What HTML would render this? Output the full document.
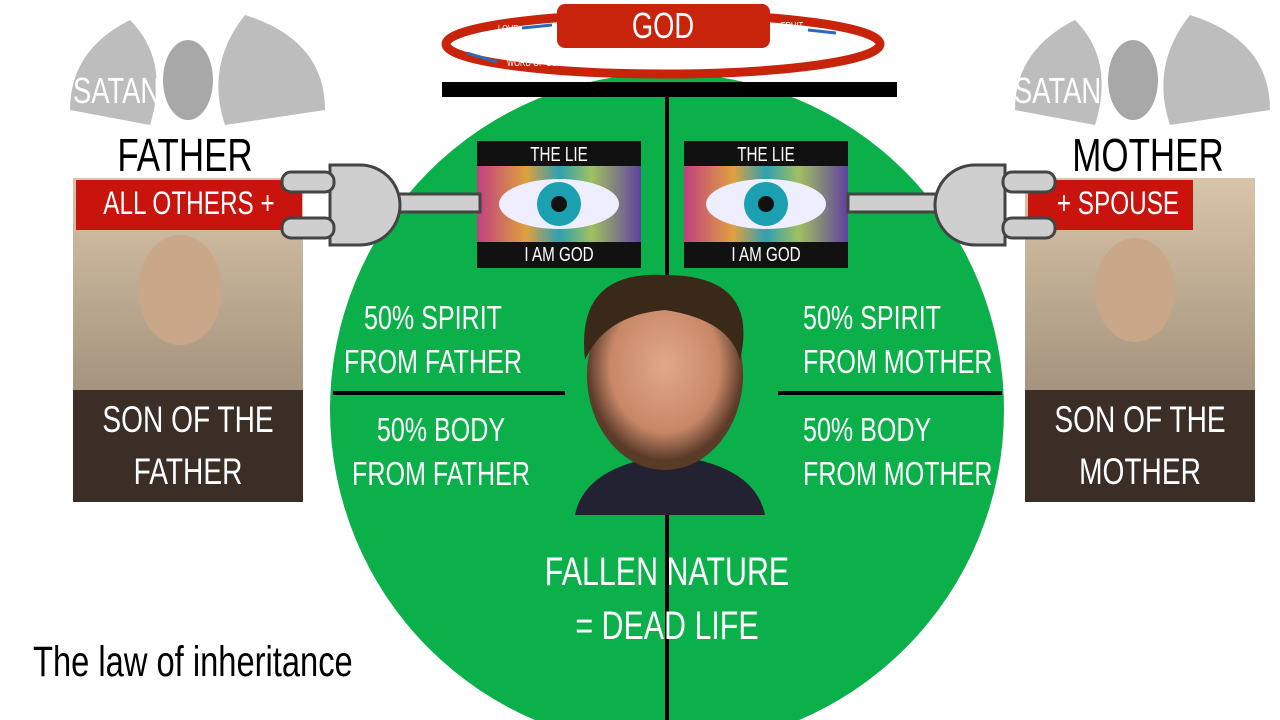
<!DOCTYPE html>
<html><head><meta charset="utf-8"><style>
body{margin:0;width:1280px;height:720px;background:#fff;position:relative;overflow:hidden;font-family:"Liberation Sans",sans-serif;}
.a{position:absolute}
.t{position:absolute;color:#fff;text-align:center;white-space:nowrap;font-family:"Liberation Sans",sans-serif;transform:scaleX(.76);transform-origin:center top}
.l{text-align:left;transform-origin:left top}
</style></head><body>
<svg class="a" style="left:0;top:0" width="1280" height="720">
<defs>
<linearGradient id="eye" x1="0" x2="1"><stop offset="0" stop-color="#c04080"/><stop offset=".3" stop-color="#e0a040"/><stop offset=".5" stop-color="#30a0b0"/><stop offset=".7" stop-color="#a0c060"/><stop offset="1" stop-color="#6040a0"/></linearGradient>
<radialGradient id="face" cx=".5" cy=".45" r=".5"><stop offset="0" stop-color="#e0a888"/><stop offset=".7" stop-color="#c88868"/><stop offset="1" stop-color="#5a3a28"/></radialGradient>
<linearGradient id="ph" x1="0" y1="0" x2="0" y2="1"><stop offset="0" stop-color="#d8c4a8"/><stop offset="1" stop-color="#8a7a68"/></linearGradient>
</defs>
<circle cx="667" cy="410" r="337" fill="#0bb04a"/>
<rect x="442" y="82" width="455" height="15" fill="#000"/>
<rect x="665" y="82" width="4" height="193" fill="#000"/>
<rect x="665" y="515" width="4" height="205" fill="#000"/>
<rect x="333" y="391" width="232" height="4" fill="#000"/>
<rect x="778" y="391" width="224" height="4" fill="#000"/>
<ellipse cx="663" cy="44" rx="217" ry="30" fill="none" stroke="#c8240c" stroke-width="9"/>
<rect x="557" y="4" width="213" height="44" rx="8" fill="#c8240c"/>
<g stroke="#2a6ab8" stroke-width="3"><line x1="522" y1="28" x2="552" y2="25"/><line x1="808" y1="30" x2="836" y2="33"/><line x1="467" y1="53" x2="497" y2="62"/></g>
<rect x="477" y="141" width="164" height="127" fill="#111"/>
<rect x="477" y="166" width="164" height="76" fill="url(#eye)"/>
<ellipse cx="559" cy="204" rx="60" ry="25" fill="#eef"/><circle cx="559" cy="204" r="22" fill="#1aa0b0"/><circle cx="559" cy="204" r="8" fill="#111"/>
<rect x="684" y="141" width="164" height="127" fill="#111"/>
<rect x="684" y="166" width="164" height="76" fill="url(#eye)"/>
<ellipse cx="766" cy="204" rx="60" ry="25" fill="#eef"/><circle cx="766" cy="204" r="22" fill="#1aa0b0"/><circle cx="766" cy="204" r="8" fill="#111"/>
<rect x="73" y="178" width="230" height="324" fill="url(#ph)"/>
<rect x="73" y="390" width="230" height="112" fill="#3a2e26"/>
<ellipse cx="180" cy="290" rx="42" ry="55" fill="#c8a888"/>
<rect x="1025" y="178" width="230" height="324" fill="url(#ph)"/>
<rect x="1025" y="390" width="230" height="112" fill="#3a2e26"/>
<ellipse cx="1135" cy="290" rx="40" ry="52" fill="#c8a888"/>
<rect x="76" y="180" width="226" height="50" fill="#c8140c"/>
<rect x="1028" y="180" width="165" height="50" fill="#c8140c"/>
<g fill="#cfcfcf" stroke="#444" stroke-width="3">
<rect x="380" y="194" width="100" height="18"/>
<path d="M330 165 h30 a40 40 0 0 1 0 80 h-30 z"/>
<rect x="282" y="172" width="52" height="20" rx="9"/><rect x="282" y="218" width="52" height="20" rx="9"/>
<rect x="848" y="194" width="95" height="18"/>
<path d="M1005 165 h-30 a40 40 0 0 0 0 80 h30 z"/>
<rect x="1003" y="172" width="52" height="20" rx="9"/><rect x="1003" y="218" width="52" height="20" rx="9"/>
</g>
<g fill="#bdbdbd"><path d="M70 110 q0 -60 60 -90 q40 40 20 105 z"/><path d="M325 110 q0 -70 -80 -95 q-40 50 -20 110 z"/><ellipse cx="188" cy="80" rx="25" ry="40" fill="#a8a8a8"/>
<path d="M1015 110 q0 -60 60 -90 q40 40 20 105 z"/><path d="M1270 110 q0 -70 -80 -95 q-40 50 -20 110 z"/><ellipse cx="1133" cy="80" rx="25" ry="40" fill="#a8a8a8"/></g>
<path d="M575 515 q10 -50 95 -60 q85 10 95 60 z" fill="#223"/>
<ellipse cx="665" cy="375" rx="78" ry="95" fill="url(#face)"/>
<path d="M585 360 q-10 -90 80 -85 q95 0 75 85 q-10 -40 -75 -50 q-60 5 -80 50z" fill="#3a2818"/>
</svg>
<div class="t" style="left:463px;top:6px;width:400px;font-size:36px;line-height:40px">GOD</div>
<div class="t" style="left:478px;top:24px;width:60px;font-size:10px">LOVE</div>
<div class="t" style="left:762px;top:21px;width:60px;font-size:10px">FRUIT</div>
<div class="t" style="left:490px;top:58px;width:90px;font-size:10px">WORD OF GOD</div>
<div class="t" style="left:359px;top:144px;width:400px;font-size:20px">THE LIE</div>
<div class="t" style="left:359px;top:244px;width:400px;font-size:20px">I AM GOD</div>
<div class="t" style="left:566px;top:144px;width:400px;font-size:20px">THE LIE</div>
<div class="t" style="left:566px;top:244px;width:400px;font-size:20px">I AM GOD</div>
<div class="t" style="left:-11px;top:185px;width:400px;font-size:32px">ALL OTHERS +</div>
<div class="t" style="left:918px;top:185px;width:400px;font-size:32px">+ SPOUSE</div>
<div class="t" style="left:-12px;top:394px;width:400px;font-size:37px;line-height:52px">SON OF THE<br>FATHER</div>
<div class="t" style="left:940px;top:394px;width:400px;font-size:37px;line-height:52px">SON OF THE<br>MOTHER</div>
<div class="t" style="left:233px;top:296px;width:400px;font-size:33px;line-height:44px">50% SPIRIT<br>FROM FATHER</div>
<div class="t" style="left:241px;top:408px;width:400px;font-size:33px;line-height:44px">50% BODY<br>FROM FATHER</div>
<div class="t l" style="left:803px;top:296px;font-size:33px;line-height:44px">50% SPIRIT<br>FROM MOTHER</div>
<div class="t l" style="left:803px;top:408px;font-size:33px;line-height:44px">50% BODY<br>FROM MOTHER</div>
<div class="t" style="left:467px;top:545px;width:400px;font-size:40px;line-height:54px">FALLEN NATURE<br>= DEAD LIFE</div>
<div class="t" style="left:-15px;top:128px;width:400px;color:#000;font-size:46px">FATHER</div>
<div class="t" style="left:948px;top:128px;width:400px;color:#000;font-size:46px">MOTHER</div>
<div class="t l" style="left:73px;top:70px;font-size:36px">SATAN</div>
<div class="t l" style="left:1014px;top:70px;font-size:36px">SATAN</div>
<div class="t l" style="left:33px;top:638px;color:#000;font-size:43px">The law of inheritance</div>
</body></html>
